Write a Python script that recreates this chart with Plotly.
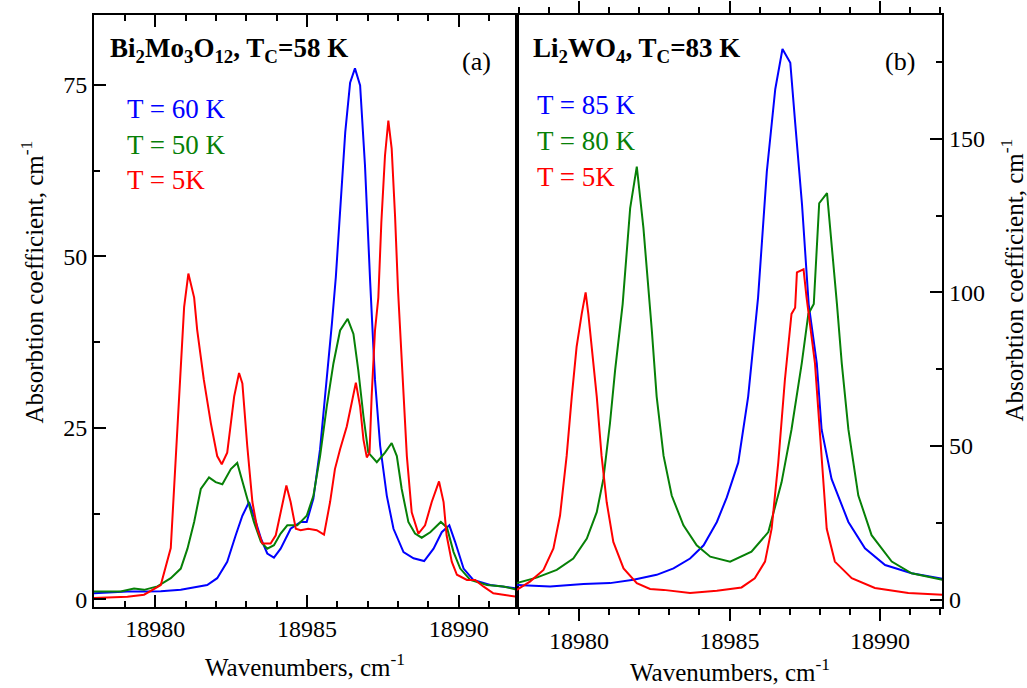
import plotly.graph_objects as go

# ---------------- Panel (a): Bi2Mo3O12 ----------------
a_red_x = [18977.98, 18979.08, 18979.63, 18980.18, 18980.51, 18980.67, 18980.84, 18980.95, 18981.09, 18981.28,
           18981.38, 18981.6, 18981.83, 18982.04, 18982.19, 18982.37, 18982.6, 18982.76, 18982.87, 18983.03,
           18983.2, 18983.36, 18983.53, 18983.8, 18983.97, 18984.13, 18984.32, 18984.46, 18984.63, 18984.79,
           18985.04, 18985.32, 18985.56, 18985.76, 18985.92, 18986.09, 18986.31, 18986.47, 18986.61, 18986.75,
           18986.86, 18986.97, 18987.06, 18987.13, 18987.24, 18987.35, 18987.45, 18987.57, 18987.68, 18987.79,
           18987.9, 18988.0, 18988.07, 18988.18, 18988.29, 18988.45, 18988.67, 18988.89, 18989.11, 18989.35,
           18989.5, 18989.6, 18989.77, 18989.94, 18990.27, 18990.54, 18990.81, 18991.14, 18991.47, 18991.92]
a_red_y = [0.2, 0.4, 0.7, 2.1, 7.5, 20.0, 34.0, 42.6, 47.5, 44.0,
           39.3, 32.0, 25.7, 20.9, 19.7, 21.4, 29.6, 33.0, 31.5, 22.4,
           14.2, 10.3, 8.15, 8.15, 9.35, 12.7, 16.6, 14.2, 10.3, 10.1,
           10.3, 10.1, 9.45, 14.2, 19.0, 21.9, 25.2, 28.6, 31.6, 28.1,
           23.3, 20.7, 21.4, 29.6, 39.2, 44.0, 55.0, 64.7, 69.8, 65.7,
           56.0, 45.0, 39.3, 29.6, 20.9, 12.7, 9.6, 10.8, 14.2, 17.2,
           14.2, 9.35, 5.5, 3.6, 2.85, 2.85, 1.9, 0.9, 0.7, 0.4]

a_green_x = [18977.98, 18978.86, 18979.3, 18979.63, 18980.07, 18980.51, 18980.84, 18981.06, 18981.28, 18981.5,
             18981.77, 18981.99, 18982.21, 18982.49, 18982.7, 18982.87, 18983.03, 18983.25, 18983.48, 18983.69,
             18983.91, 18984.13, 18984.35, 18984.68, 18984.99, 18985.21, 18985.43, 18985.65, 18985.87, 18986.09,
             18986.34, 18986.53, 18986.69, 18986.86, 18987.02, 18987.3, 18987.57, 18987.79, 18987.96, 18988.12,
             18988.34, 18988.56, 18988.78, 18989.06, 18989.41, 18989.61, 18989.83, 18990.05, 18990.38, 18990.93,
             18991.47, 18991.92]
a_green_y = [1.15, 1.15, 1.6, 1.4, 1.9, 3.1, 4.5, 7.4, 11.3, 16.1,
             17.8, 17.1, 16.8, 19.0, 19.9, 17.1, 14.7, 11.3, 8.4, 7.4,
             7.9, 9.6, 10.8, 10.8, 12.2, 15.1, 20.9, 28.1, 34.4, 39.2,
             40.9, 38.7, 33.4, 26.7, 21.4, 20.0, 21.4, 22.8, 20.9, 16.1,
             11.3, 9.6, 9.0, 9.8, 11.3, 10.5, 6.9, 4.5, 2.85, 2.1,
             1.9, 1.4]

a_blue_x = [18977.98, 18979.08, 18979.63, 18980.18, 18980.84, 18981.28, 18981.71, 18982.04, 18982.37, 18982.65,
            18982.87, 18983.09, 18983.25, 18983.48, 18983.69, 18983.91, 18984.13, 18984.46, 18984.79, 18984.99,
            18985.21, 18985.43, 18985.65, 18985.82, 18985.95, 18986.09, 18986.26, 18986.42, 18986.58, 18986.75,
            18986.91, 18987.08, 18987.24, 18987.41, 18987.63, 18987.85, 18988.18, 18988.51, 18988.86, 18989.17,
            18989.44, 18989.69, 18989.88, 18990.16, 18990.48, 18991.04, 18991.92]
a_blue_y = [0.9, 1.15, 1.15, 1.2, 1.4, 1.7, 2.1, 3.1, 5.5, 9.35,
            12.2, 14.2, 12.2, 8.9, 6.7, 6.1, 7.4, 10.3, 11.3, 11.3,
            14.7, 21.9, 32.0, 40.2, 47.0, 56.1, 68.1, 75.3, 77.4, 74.9,
            63.3, 46.4, 32.0, 22.4, 15.1, 10.3, 6.9, 6.0, 5.6, 7.4,
            9.8, 10.8, 8.4, 4.5, 2.85, 2.1, 1.6]

# ---------------- Panel (b): Li2WO4 ----------------
b_red_x = [18977.93, 18978.37, 18978.82, 18979.15, 18979.37, 18979.59, 18979.76, 18979.92, 18980.09, 18980.22,
           18980.31, 18980.46, 18980.59, 18980.75, 18980.92, 18981.14, 18981.48, 18981.92, 18982.36, 18982.81,
           18983.69, 18984.58, 18985.4, 18985.84, 18986.18, 18986.4, 18986.62, 18986.84, 18987.06, 18987.18,
           18987.24, 18987.46, 18987.56, 18987.84, 18988.06, 18988.23, 18988.5, 18989.06, 18989.83, 18990.94,
           18992.07]
b_red_y = [3.2, 5.9, 9.7, 16.7, 27.4, 46.8, 66.1, 82.3, 93.0, 100.0,
           93.0, 79.0, 66.1, 46.8, 31.7, 18.8, 10.2, 5.4, 3.5, 3.2,
           2.2, 2.9, 4.0, 7.0, 12.4, 23.1, 44.6, 71.5, 93.0, 95.0,
           106.5, 107.5, 98.4, 76.9, 44.6, 23.1, 12.4, 7.0, 3.8, 2.2,
           1.6]

b_green_x = [18977.93, 18978.59, 18979.26, 18979.81, 18980.26, 18980.59, 18980.81, 18981.03, 18981.2, 18981.36,
             18981.45, 18981.7, 18981.92, 18982.14, 18982.36, 18982.42, 18982.58, 18982.81, 18983.08, 18983.47,
             18983.91, 18984.36, 18985.02, 18985.73, 18986.29, 18986.73, 18987.06, 18987.4, 18987.62, 18987.8,
             18987.98, 18988.24, 18988.57, 18988.73, 18988.95, 18989.28, 18989.72, 18990.39, 18991.05, 18992.07]
b_green_y = [5.4, 7.2, 9.7, 13.4, 19.9, 28.5, 39.3, 57.5, 74.7, 89.8,
             96.2, 127.4, 140.9, 121.0, 96.2, 87.6, 66.1, 46.8, 33.9, 24.2,
             17.7, 14.0, 12.4, 15.6, 22.0, 38.2, 55.4, 76.9, 93.0, 96.2,
             129.0, 132.3, 96.2, 76.9, 55.4, 33.9, 21.0, 12.4, 8.6, 6.5]

b_blue_x = [18977.93, 18979.04, 18980.15, 18981.03, 18981.81, 18982.58, 18983.14, 18983.69, 18984.14, 18984.58,
            18984.91, 18985.29, 18985.62, 18985.84, 18985.95, 18986.24, 18986.52, 18986.76, 18987.02, 18987.18,
            18987.41, 18987.63, 18987.9, 18988.06, 18988.39, 18988.95, 18989.5, 18990.17, 18991.05, 18992.07]
b_blue_y = [4.8, 4.3, 5.1, 5.4, 6.5, 8.1, 10.2, 13.4, 17.7, 25.3,
            33.3, 44.6, 66.1, 87.6, 98.4, 139.3, 166.1, 179.2, 174.7, 155.4,
            128.5, 96.2, 76.9, 55.4, 39.3, 25.3, 16.7, 11.3, 8.6, 6.8]

xtick_vals = [18980, 18985, 18990]
xtick_text = ["18980", "18985", "18990"]
a_ytick_vals = [0, 25, 50, 75]
a_yminor_vals = [12.5, 37.5, 62.5]
b_ytick_vals = [0, 50, 100, 150]
b_yminor_vals = [25, 75, 125, 175]

a_labels = ["T = 60 K", "T = 50 K", "T = 5K"]
b_labels = ["T = 85 K", "T = 80 K", "T = 5K"]
BLUE, GREEN, RED = "#0000FF", "#078007", "#FF0000"

W, H = 1027, 688
def px(x):
    return x / W
def py(y):
    return (H - y) / H

FONT = "Liberation Serif, serif"
A_XR = [18977.98, 18991.92]
B_XR = [18977.94, 18992.07]
A_YR = [-1.05, 85.2]
B_YR = [-2.26, 190.3]
TOP, BOT = 15, 612
AL, MID, BR = 94, 517, 942.3

fig = go.Figure()
for xs, ys, c in [(a_blue_x, a_blue_y, BLUE), (a_green_x, a_green_y, GREEN), (a_red_x, a_red_y, RED)]:
    fig.add_trace(go.Scatter(x=xs, y=ys, mode="lines", line=dict(color=c, width=2),
                             xaxis="x", yaxis="y", showlegend=False))
for xs, ys, c in [(b_blue_x, b_blue_y, BLUE), (b_green_x, b_green_y, GREEN), (b_red_x, b_red_y, RED)]:
    fig.add_trace(go.Scatter(x=xs, y=ys, mode="lines", line=dict(color=c, width=2),
                             xaxis="x2", yaxis="y2", showlegend=False))

tickfont = dict(family=FONT, size=24, color="black")
base = dict(showline=True, linecolor="black", linewidth=2, tickwidth=2, tickcolor="black",
            showgrid=False, zeroline=False, tickfont=tickfont, tickmode="array")
xminor_in = dict(ticks="inside", ticklen=6, tickwidth=2, tickcolor="black", dtick=1, tick0=18980)
xminor_out = dict(ticks="outside", ticklen=6, tickwidth=2, tickcolor="black", dtick=1, tick0=18980)

fig.update_layout(
    width=W, height=H, margin=dict(l=0, r=0, t=0, b=0), plot_bgcolor="white",
    font=dict(family=FONT, color="black"),
    xaxis=dict(base, domain=[px(AL), px(MID)], anchor="y", range=A_XR, tickvals=xtick_vals,
               ticktext=xtick_text, ticks="inside", ticklen=12, mirror="ticks", minor=xminor_in),
    yaxis=dict(base, domain=[py(BOT), py(TOP)], anchor="x", range=A_YR, tickvals=a_ytick_vals,
               ticks="inside", ticklen=12, mirror=True,
               minor=dict(ticks="inside", ticklen=6, tickwidth=2, tickcolor="black", tickvals=a_yminor_vals)),
    xaxis2=dict(base, domain=[px(MID), px(BR)], anchor="y2", range=B_XR, tickvals=xtick_vals,
                ticktext=xtick_text, ticks="outside", ticklen=12, mirror="ticks", minor=xminor_out),
    yaxis2=dict(base, domain=[py(BOT), py(TOP)], anchor="x2", side="right", range=B_YR,
                tickvals=b_ytick_vals, ticks="inside", ticklen=12, mirror=True,
                minor=dict(ticks="inside", ticklen=6, tickwidth=2, tickcolor="black", tickvals=b_yminor_vals)),
)

ann = []
def text(x, y, s, size, color="black", xanchor="left", angle=0):
    ann.append(dict(x=px(x), y=py(y), xref="paper", yref="paper", text=s, showarrow=False,
                    xanchor=xanchor, yanchor="middle", textangle=angle,
                    font=dict(family=FONT, size=size, color=color)))

text(108, 50, "<b>Bi<sub>2</sub>Mo<sub>3</sub>O<sub>12</sub>, T<sub>C</sub>=58 K</b>", 27)
text(476, 62, "(a)", 26, xanchor="center")
text(531, 50, "<b>Li<sub>2</sub>WO<sub>4</sub>, T<sub>C</sub>=83 K</b>", 27)
text(900, 62, "(b)", 26, xanchor="center")
for i, (s, c) in enumerate(zip(a_labels, [BLUE, GREEN, RED])):
    text(125, 110 + 36 * i, s, 27, color=c)
for i, (s, c) in enumerate(zip(b_labels, [BLUE, GREEN, RED])):
    text(535, 106 + 36.5 * i, s, 27, color=c)
text(305, 671, "Wavenumbers, cm<sup>-1</sup>", 25, xanchor="center")
text(730, 676, "Wavenumbers, cm<sup>-1</sup>", 25, xanchor="center")
text(32, 285, "Absorbtion coefficient, cm<sup>-1</sup>", 25, xanchor="center", angle=-90)
text(1012, 283, "Absorbtion coefficient, cm<sup>-1</sup>", 25, xanchor="center", angle=-90)
fig.update_layout(annotations=ann)

fig.write_html("out.html")
